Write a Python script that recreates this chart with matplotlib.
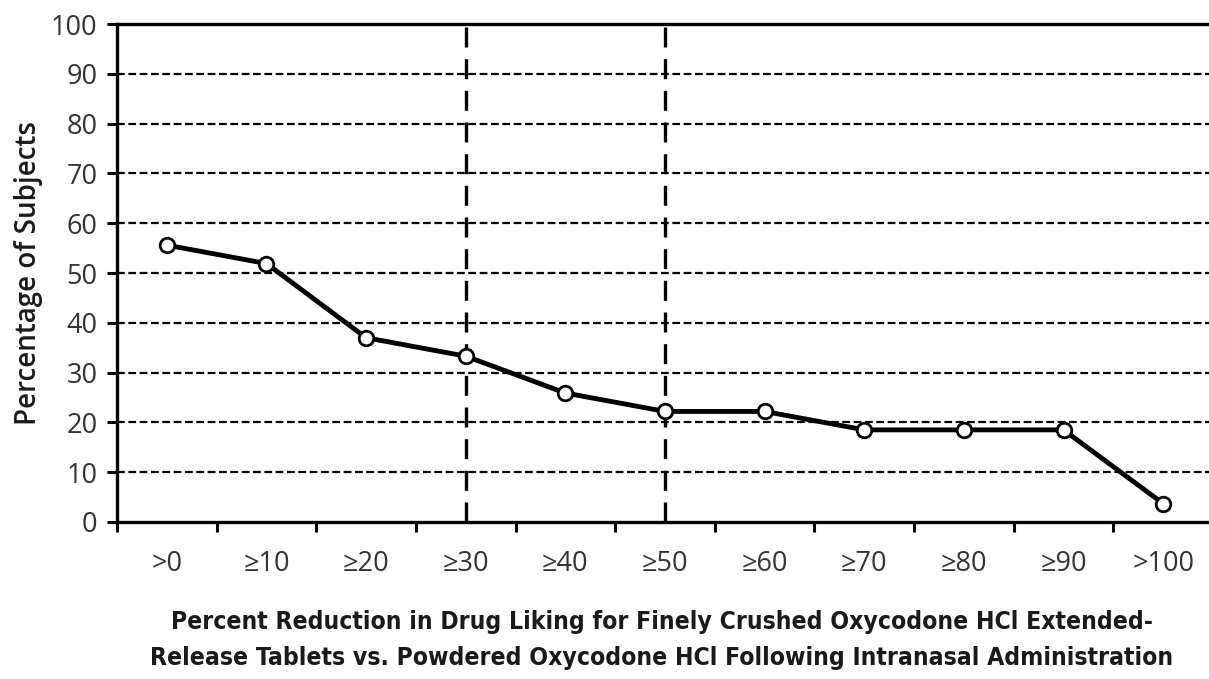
import matplotlib
matplotlib.use("Agg")
import matplotlib.pyplot as plt

# categories on the x axis and percentage of subjects reaching each level
categories = ['>0', '≥10', '≥20', '≥30', '≥40', '≥50', '≥60', '≥70', '≥80', '≥90', '>100']
percent = [55.6, 51.9, 37.0, 33.3, 25.9, 22.2, 22.2, 18.5, 18.5, 18.5, 3.7]
marked = ['≥30', '≥50']  # vertical reference lines
y_ticks = list(range(0, 101, 10))

xlabel = ('Percent Reduction in Drug Liking for Finely Crushed Oxycodone HCl Extended-\n'
          'Release Tablets vs. Powdered Oxycodone HCl Following Intranasal Administration')

W, H = 1209, 679
fig = plt.figure(figsize=(W / 100, H / 100), dpi=100)
ax = fig.add_axes([117 / W, 1 - 522 / H, 1096 / W, 498 / H])

x = list(range(len(categories)))
ax.set_xlim(-0.5, len(categories) - 0.5)
ax.set_ylim(0, 100)

# dashed horizontal grid
for v in y_ticks[1:-1]:
    ax.axhline(v, color='black', lw=1.6, ls=(0, (3.5, 1.6)), zorder=1)

for c in marked:
    ax.axvline(categories.index(c), color='black', lw=2.4, ls=(0, (6, 3.5)), zorder=1)

ax.plot(x, percent, color='black', lw=3.5, marker='o', ms=10.5,
        mfc='white', mec='black', mew=2, zorder=3, clip_on=False)

for s in ['top', 'left', 'bottom', 'right']:
    ax.spines[s].set_linewidth(2.4)

tick_font = ['Open Sans', 'DejaVu Sans']
ax.set_yticks(y_ticks)
ax.set_yticklabels([str(v) for v in y_ticks], family=tick_font, fontsize=19.5, color='#333333')
ax.tick_params(axis='y', direction='out', length=7, width=2.2, pad=7)

# boundary ticks without labels, labels centred on categories
ax.set_xticks([i - 0.5 for i in range(len(categories) + 1)])
ax.set_xticklabels([])
ax.tick_params(axis='x', which='major', direction='out', length=7, width=2.2)
ax.set_xticks(x, minor=True)
ax.set_xticklabels(categories, minor=True, family=tick_font, fontsize=19.5, color='#333333')
ax.tick_params(axis='x', which='minor', length=0, pad=20)

ax.set_ylabel('Percentage of Subjects', family=tick_font, fontsize=20, fontweight='semibold',
              color='#1a1a1a', labelpad=6)

fig.text(662 / W, 1 - 640 / H, xlabel, ha='center', va='center',
         family='DejaVu Sans', fontstretch='condensed', fontweight='bold',
         fontsize=17.7, linespacing=1.6, color='#1a1a1a')

fig.savefig('out.png', dpi=100, facecolor='white')
